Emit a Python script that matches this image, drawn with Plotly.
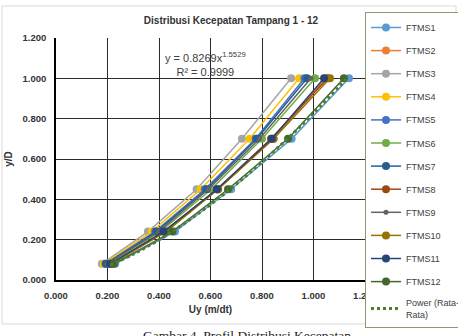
import plotly.graph_objects as go

# ---- data ----
y_levels = [0.08, 0.24, 0.45, 0.70, 1.00]
series_names = ["FTMS1", "FTMS2", "FTMS3", "FTMS4", "FTMS5", "FTMS6",
                "FTMS7", "FTMS8", "FTMS9", "FTMS10", "FTMS11", "FTMS12"]
ftms1 = [0.230, 0.462, 0.680, 0.915, 1.138]
ftms2 = [0.215, 0.425, 0.628, 0.845, 1.048]
ftms3 = [0.178, 0.357, 0.546, 0.722, 0.913]
ftms4 = [0.185, 0.372, 0.562, 0.752, 0.944]
ftms5 = [0.192, 0.385, 0.578, 0.775, 0.965]
ftms6 = [0.200, 0.405, 0.603, 0.800, 1.006]
ftms7 = [0.195, 0.390, 0.585, 0.780, 0.975]
ftms8 = [0.213, 0.420, 0.625, 0.835, 1.055]
ftms9 = [0.198, 0.398, 0.592, 0.790, 0.990]
ftms10 = [0.216, 0.428, 0.630, 0.845, 1.064]
ftms11 = [0.210, 0.418, 0.625, 0.838, 1.041]
ftms12 = [0.225, 0.452, 0.668, 0.901, 1.118]
series_values = [ftms1, ftms2, ftms3, ftms4, ftms5, ftms6,
                 ftms7, ftms8, ftms9, ftms10, ftms11, ftms12]
colors = ["#5B9BD5", "#ED7D31", "#A5A5A5", "#FFC000", "#4472C4", "#70AD47",
          "#255E91", "#9E480E", "#636363", "#997300", "#264478", "#43682B"]

# power trendline (Rata-Rata)
trend_x = [0.21, 0.30, 0.40, 0.50, 0.60, 0.70, 0.80, 0.90, 1.00, 1.13]
trend_y = [0.073, 0.128, 0.199, 0.282, 0.374, 0.475, 0.585, 0.702, 0.827, 1.000]

x_ticks = [0.0, 0.2, 0.4, 0.6, 0.8, 1.0, 1.2]
y_ticks = [0.0, 0.2, 0.4, 0.6, 0.8, 1.0, 1.2]

FONT = "Liberation Sans"

fig = go.Figure()
for i, (name, vals, col) in enumerate(zip(series_names, series_values, colors)):
    msize = 5 if name == "FTMS9" else 8
    fig.add_trace(go.Scatter(
        x=vals, y=y_levels, name=name, mode="lines+markers",
        line=dict(color=col, width=1.5),
        marker=dict(color=col, size=msize),
        legendgroup=name,
    ))

fig.add_trace(go.Scatter(
    x=trend_x, y=trend_y, name="Power (Rata-<br>Rata)", mode="lines",
    line=dict(color="#4E7D32", width=3, dash="dot", shape="spline"),
    legendgroup="power",
))

# plot-area pixel geometry
L, R, T, B = 56, 365, 38, 280
W, H = R - L, B - T

def px_x(p):
    return (p - L) / W

def px_y(p):
    return (B - p) / H

fig.update_layout(
    width=458, height=336,
    margin=dict(l=L, r=458 - R, t=T, b=336 - B, autoexpand=False),
    paper_bgcolor="white", plot_bgcolor="white",
    font=dict(family=FONT, color="#404040"),
    showlegend=True,
    legend=dict(
        x=1.0, xanchor="left", y=px_y(12), yanchor="top",
        bordercolor="#8A9A6E", borderwidth=1, bgcolor="white",
        font=dict(size=9, color="#404040", family=FONT),
        traceorder="grouped", tracegroupgap=4.1,
        itemwidth=30, maxheight=330,
    ),
    title=dict(text="<b>Distribusi Kecepatan Tampang 1 - 12</b>",
               x=px_x(231), xanchor="center", xref="paper",
               y=1 - 20 / 336, yanchor="middle",
               font=dict(size=10, color="#333333", family=FONT)),
    xaxis=dict(range=[0, 1.2], tickvals=x_ticks, tickformat=".3f",
               showgrid=True, gridcolor="#2a2a2a", gridwidth=1,
               showline=True, linecolor="black", linewidth=1.5,
               zeroline=False, ticks="", ticklabelstandoff=6,
               tickfont=dict(size=9.5, color="#333333", family=FONT, weight="bold"),
               title=dict(text="<b>Uy (m/dt)</b>", standoff=6,
                          font=dict(size=10, color="#333333", family=FONT))),
    yaxis=dict(range=[0, 1.2], tickvals=y_ticks, tickformat=".3f",
               showgrid=True, gridcolor="#2a2a2a", gridwidth=1,
               showline=True, linecolor="black", linewidth=1.5,
               zeroline=False, ticks="", ticklabelstandoff=6,
               tickfont=dict(size=9.5, color="#333333", family=FONT, weight="bold"),
               title=dict(text="<b>y/D</b>", standoff=8,
                          font=dict(size=10, color="#333333", family=FONT))),
    shapes=[
        dict(type="rect", xref="paper", yref="paper",
             x0=px_x(2), x1=px_x(456), y0=px_y(324), y1=px_y(6),
             line=dict(color="#D9D9D9", width=1), layer="below"),
    ],
    annotations=[
        dict(text="y = 0.8269x<sup>1.5529</sup><br>R² = 0.9999",
             xref="paper", yref="paper", x=px_x(205), y=px_y(64),
             xanchor="center", yanchor="middle", showarrow=False, align="center",
             font=dict(size=11, color="#404040", family=FONT)),
        dict(text="Gambar 4. Profil Distribusi Kecepatan",
             xref="paper", yref="paper", x=px_x(247), y=px_y(326),
             xanchor="center", yanchor="top", showarrow=False,
             font=dict(size=13.5, color="#222222", family="Liberation Serif")),
    ],
)

fig.write_html("out.html")
